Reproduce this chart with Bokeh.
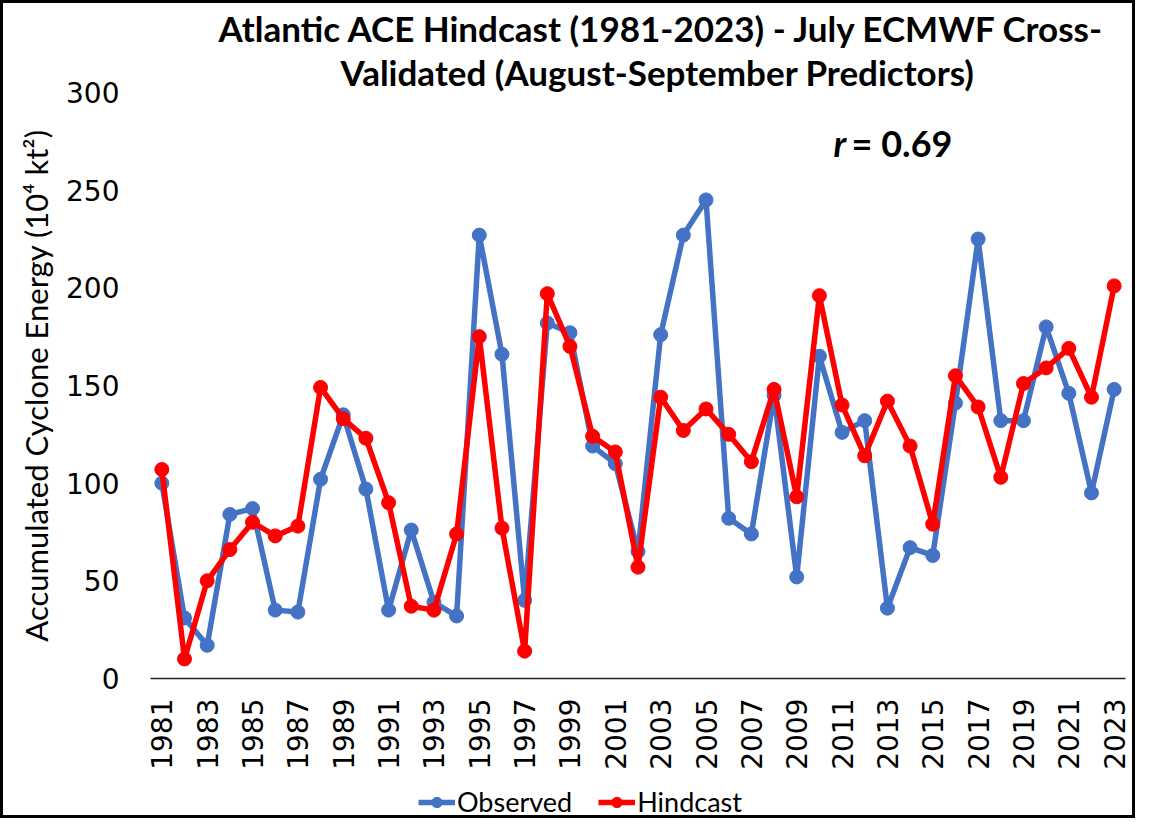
import math
from bokeh.plotting import figure
from bokeh.layouts import column
from bokeh.models import Range1d, FixedTicker, Label, Legend, LegendItem, ColumnDataSource, Title
from bokeh.embed import file_html
from bokeh.resources import INLINE

years = list(range(1981, 2024))
observed = [100, 31, 17, 84, 87, 35, 34, 102, 135, 97, 35, 76, 39, 32, 227, 166, 40, 182, 177, 119,
            110, 65, 176, 227, 245, 82, 74, 145, 52, 165, 126, 132, 36, 67, 63, 141, 225, 132, 132, 180,
            146, 95, 148]
hindcast = [107, 10, 50, 66, 80, 73, 78, 149, 133, 123, 90, 37, 35, 74, 175, 77, 14, 197, 170, 124,
            116, 57, 144, 127, 138, 125, 111, 148, 93, 196, 140, 114, 142, 119, 79, 155, 139, 103, 151, 159,
            169, 144, 201]
y_ticks = [0, 50, 100, 150, 200, 250, 300]
x_ticks = list(range(1981, 2024, 2))
series_names = ["Observed", "Hindcast"]

title_1 = "Atlantic ACE Hindcast (1981-2023) - July ECMWF Cross-"
title_2 = "Validated (August-September Predictors)"
y_title = "Accumulated Cyclone Energy (10\u2074 kt\u00b2)"

BLUE = "#4472C4"
RED = "#FF0000"

src = ColumnDataSource(dict(year=years, obs=observed, hind=hindcast))

p = figure(width=1135, height=773, output_backend="svg", toolbar_location=None,
           x_range=Range1d(1980.5, 2023.5), y_range=Range1d(0, 300),
           min_border_left=147, min_border_right=13, min_border_top=89, min_border_bottom=98)
p.styles = {"border-top": "3px solid black", "border-left": "3px solid black",
            "border-right": "3px solid black"}
p.outline_line_color = None
p.xgrid.grid_line_color = None
p.ygrid.grid_line_color = None

# axes
p.yaxis.ticker = FixedTicker(ticks=y_ticks)
p.yaxis.axis_line_color = None
p.yaxis.major_tick_line_color = None
p.yaxis.minor_tick_line_color = None
p.yaxis.major_tick_out = 0
p.yaxis.major_label_standoff = 31
p.yaxis.major_label_text_font = "DejaVu Sans"
p.yaxis.major_label_text_font_size = "28px"
p.yaxis.major_label_text_color = "black"
p.yaxis.axis_label = y_title
p.yaxis.axis_label_text_font = "Lato"
p.yaxis.axis_label_text_font_style = "normal"
p.yaxis.axis_label_text_font_size = "31px"
p.yaxis.axis_label_standoff = 8
p.yaxis.axis_label_text_color = "black"

p.xaxis.ticker = FixedTicker(ticks=x_ticks)
p.xaxis.axis_line_color = "#222222"
p.xaxis.axis_line_width = 1.5
p.xaxis.major_tick_line_color = None
p.xaxis.minor_tick_line_color = None
p.xaxis.major_tick_out = 0
p.xaxis.major_label_orientation = math.pi / 2
p.xaxis.major_label_standoff = 20
p.xaxis.major_label_text_font = "DejaVu Sans"
p.xaxis.major_label_text_font_size = "28px"
p.xaxis.major_label_text_color = "black"

# series
p.line("year", "obs", source=src, line_color=BLUE, line_width=5.5)
p.scatter("year", "obs", source=src, size=14, fill_color=BLUE, line_color=BLUE)
p.line("year", "hind", source=src, line_color=RED, line_width=5.5)
p.scatter("year", "hind", source=src, size=14, fill_color=RED, line_color=RED)

# two-line title (second line added first so it sits next to the frame)
p.add_layout(Title(text=title_2, align="left", offset=190, standoff=0,
                   text_font="Lato", text_font_style="bold", text_font_size="35px",
                   text_color="black"), "above")
p.add_layout(Title(text=title_1, align="left", offset=68, standoff=0,
                   text_font="Lato", text_font_style="bold", text_font_size="35px",
                   text_color="black"), "above")

# correlation annotation (data units)
p.add_layout(Label(x=2010.62, y=274.2, text="r", text_align="left", text_baseline="middle",
                   text_font="Lato", text_font_style="bold italic", text_font_size="36px", text_color="black"))
p.add_layout(Label(x=2011.42, y=274.2, text="= 0.69", text_align="left", text_baseline="middle",
                   text_font="Lato", text_font_style="bold", text_font_size="36px", text_color="black"))

# legend strip below the chart (its frame is aligned with the chart's frame)
leg = figure(width=1135, height=45, output_backend="svg", toolbar_location=None,
             x_range=Range1d(0, 1), y_range=Range1d(0, 1),
             x_axis_location=None, y_axis_location=None,
             min_border_left=0, min_border_right=0, min_border_top=0, min_border_bottom=0)
leg.styles = {"border-bottom": "3px solid black", "border-left": "3px solid black",
              "border-right": "3px solid black"}
leg.outline_line_color = None
leg.xgrid.grid_line_color = None
leg.ygrid.grid_line_color = None
offscreen = ColumnDataSource(dict(x=[-5, -4], y=[-5, -4]))
k1 = leg.line("x", "y", source=offscreen, line_color=BLUE, line_width=5.5)
m1 = leg.scatter("x", "y", source=offscreen, size=14, fill_color=BLUE, line_color=BLUE)
k2 = leg.line("x", "y", source=offscreen, line_color=RED, line_width=5.5)
m2 = leg.scatter("x", "y", source=offscreen, size=14, fill_color=RED, line_color=RED)
legend = Legend(items=[LegendItem(label=series_names[0], renderers=[k1, m1]),
                       LegendItem(label=series_names[1], renderers=[k2, m2])],
                orientation="horizontal", location=(268, 0),
                glyph_width=37, glyph_height=26, label_standoff=2, spacing=26,
                padding=0, margin=0, border_line_color=None, background_fill_alpha=0,
                label_text_font="Lato", label_text_font_size="27px", label_text_color="black")
leg.add_layout(legend, "center")

layout = column(p, leg, spacing=0)
open("out.html", "w").write(file_html(layout, INLINE))
